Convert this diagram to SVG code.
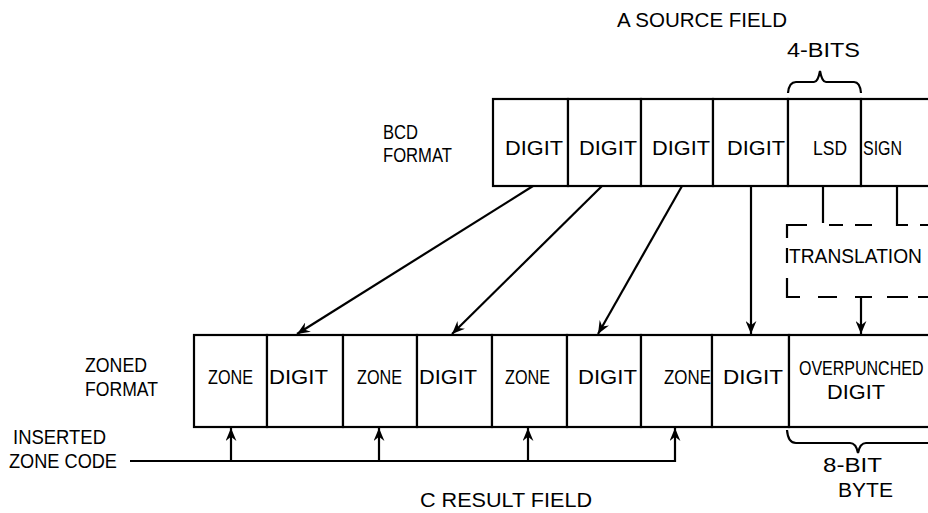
<svg xmlns="http://www.w3.org/2000/svg" width="928" height="513" viewBox="0 0 928 513">
<style>
  .bg{fill:#ffffff}
  .cell{fill:#ffffff;stroke:#000;stroke-width:2.2}
  .ln{fill:none;stroke:#000;stroke-width:2.2}
  .t{font-family:"Liberation Sans",Arial,sans-serif;font-size:20px;fill:#000}
</style>
<defs>
  <marker id="arr" viewBox="0 0 12 10" refX="12" refY="5" markerWidth="13" markerHeight="11" markerUnits="userSpaceOnUse" orient="auto">
    <path d="M0,0 L12,5 L0,10 L4,5 Z" fill="#000"/>
  </marker>
</defs>
<rect class="bg" x="0" y="0" width="928" height="513"/>

<!-- labels -->
<g id="labels">
  <text class="t" x="617" y="27" textLength="170" lengthAdjust="spacingAndGlyphs">A SOURCE FIELD</text>
  <text class="t" x="787" y="57" textLength="73" lengthAdjust="spacingAndGlyphs">4-BITS</text>
  <text class="t" x="383" y="139" textLength="35" lengthAdjust="spacingAndGlyphs">BCD</text>
  <text class="t" x="383" y="162" textLength="69" lengthAdjust="spacingAndGlyphs">FORMAT</text>
  <text class="t" x="85" y="372" textLength="62" lengthAdjust="spacingAndGlyphs">ZONED</text>
  <text class="t" x="85" y="396" textLength="73" lengthAdjust="spacingAndGlyphs">FORMAT</text>
  <text class="t" x="13" y="444" textLength="93" lengthAdjust="spacingAndGlyphs">INSERTED</text>
  <text class="t" x="9" y="468" textLength="108" lengthAdjust="spacingAndGlyphs">ZONE CODE</text>
  <text class="t" x="823" y="472" textLength="59" lengthAdjust="spacingAndGlyphs">8-BIT</text>
  <text class="t" x="838" y="497" textLength="55" lengthAdjust="spacingAndGlyphs">BYTE</text>
  <text class="t" x="420" y="507" textLength="172" lengthAdjust="spacingAndGlyphs">C RESULT FIELD</text>
</g>

<!-- braces -->
<g id="braces">
  <path class="ln" d="M788,93 Q789,82 796,82 H814 Q818,82 820,71 Q822,82 826,82 H854 Q860,82 861,93"/>
  <path class="ln" d="M787,430 Q788,443 796,443 H850 Q856,443 858,453 Q860,443 866,443 H930"/>
</g>

<!-- source field (BCD format) -->
<g id="src-digit-1"><rect class="cell" x="493" y="99" width="75" height="87"/><text class="t" x="505" y="155" textLength="58" lengthAdjust="spacingAndGlyphs">DIGIT</text></g>
<g id="src-digit-2"><rect class="cell" x="568" y="99" width="73" height="87"/><text class="t" x="579" y="155" textLength="58" lengthAdjust="spacingAndGlyphs">DIGIT</text></g>
<g id="src-digit-3"><rect class="cell" x="641" y="99" width="72" height="87"/><text class="t" x="652" y="155" textLength="58" lengthAdjust="spacingAndGlyphs">DIGIT</text></g>
<g id="src-digit-4"><rect class="cell" x="713" y="99" width="75" height="87"/><text class="t" x="727" y="155" textLength="58" lengthAdjust="spacingAndGlyphs">DIGIT</text></g>
<g id="src-lsd"><rect class="cell" x="788" y="99" width="73" height="87"/><text class="t" x="813" y="155" textLength="34" lengthAdjust="spacingAndGlyphs">LSD</text></g>
<g id="src-sign"><rect class="cell" x="861" y="99" width="80" height="87"/><text class="t" x="863" y="155" textLength="39" lengthAdjust="spacingAndGlyphs">SIGN</text></g>

<!-- translation -->
<g id="translation">
  <path class="ln" d="M787,238 V225 H807 M829,225 H843 M855,225 H872 M920,225 H930 M787,248 V263 M787,278 V297 H800 M818,297 H837 M855,297 H872 M887,297 H908 M918,297 H930"/>
  <text class="t" x="789" y="263" textLength="133" lengthAdjust="spacingAndGlyphs">TRANSLATION</text>
</g>

<!-- result field (zoned format) -->
<g id="res-zone-1"><rect class="cell" x="194" y="335" width="73" height="92"/><text class="t" x="208" y="384" textLength="45" lengthAdjust="spacingAndGlyphs">ZONE</text></g>
<g id="res-digit-1"><rect class="cell" x="267" y="335" width="76" height="92"/><text class="t" x="269" y="384" textLength="59" lengthAdjust="spacingAndGlyphs">DIGIT</text></g>
<g id="res-zone-2"><rect class="cell" x="343" y="335" width="74" height="92"/><text class="t" x="357" y="384" textLength="45" lengthAdjust="spacingAndGlyphs">ZONE</text></g>
<g id="res-digit-2"><rect class="cell" x="417" y="335" width="75" height="92"/><text class="t" x="419" y="384" textLength="58" lengthAdjust="spacingAndGlyphs">DIGIT</text></g>
<g id="res-zone-3"><rect class="cell" x="492" y="335" width="75" height="92"/><text class="t" x="505" y="384" textLength="45" lengthAdjust="spacingAndGlyphs">ZONE</text></g>
<g id="res-digit-3"><rect class="cell" x="567" y="335" width="74" height="92"/><text class="t" x="578" y="384" textLength="59" lengthAdjust="spacingAndGlyphs">DIGIT</text></g>
<g id="res-zone-4"><rect class="cell" x="641" y="335" width="71" height="92"/><text class="t" x="664" y="384" textLength="47" lengthAdjust="spacingAndGlyphs">ZONE</text></g>
<g id="res-digit-4"><rect class="cell" x="712" y="335" width="77" height="92"/><text class="t" x="723" y="384" textLength="60" lengthAdjust="spacingAndGlyphs">DIGIT</text></g>
<g id="res-overpunched"><rect class="cell" x="789" y="335" width="152" height="92"/><text class="t" transform="translate(799,375) scale(0.8,1)" x="0" y="0">OVERPUNCHED</text><text class="t" x="827" y="399" textLength="58" lengthAdjust="spacingAndGlyphs">DIGIT</text></g>

<!-- connectors -->
<g id="connectors">
  <path class="ln" d="M533,186 L297,334" marker-end="url(#arr)"/>
  <path class="ln" d="M602,186 L452,334" marker-end="url(#arr)"/>
  <path class="ln" d="M682,186 L598,334" marker-end="url(#arr)"/>
  <path class="ln" d="M751,186 V334" marker-end="url(#arr)"/>
  <path class="ln" d="M823,186 V223"/>
  <path class="ln" d="M897,186 V225 H908"/>
  <path class="ln" d="M861,297 V334" marker-end="url(#arr)"/>
  <path class="ln" d="M130,461 H675 V428" marker-end="url(#arr)"/>
  <path class="ln" d="M231,461 V428" marker-end="url(#arr)"/>
  <path class="ln" d="M379,461 V428" marker-end="url(#arr)"/>
  <path class="ln" d="M528,461 V428" marker-end="url(#arr)"/>
</g>
</svg>
